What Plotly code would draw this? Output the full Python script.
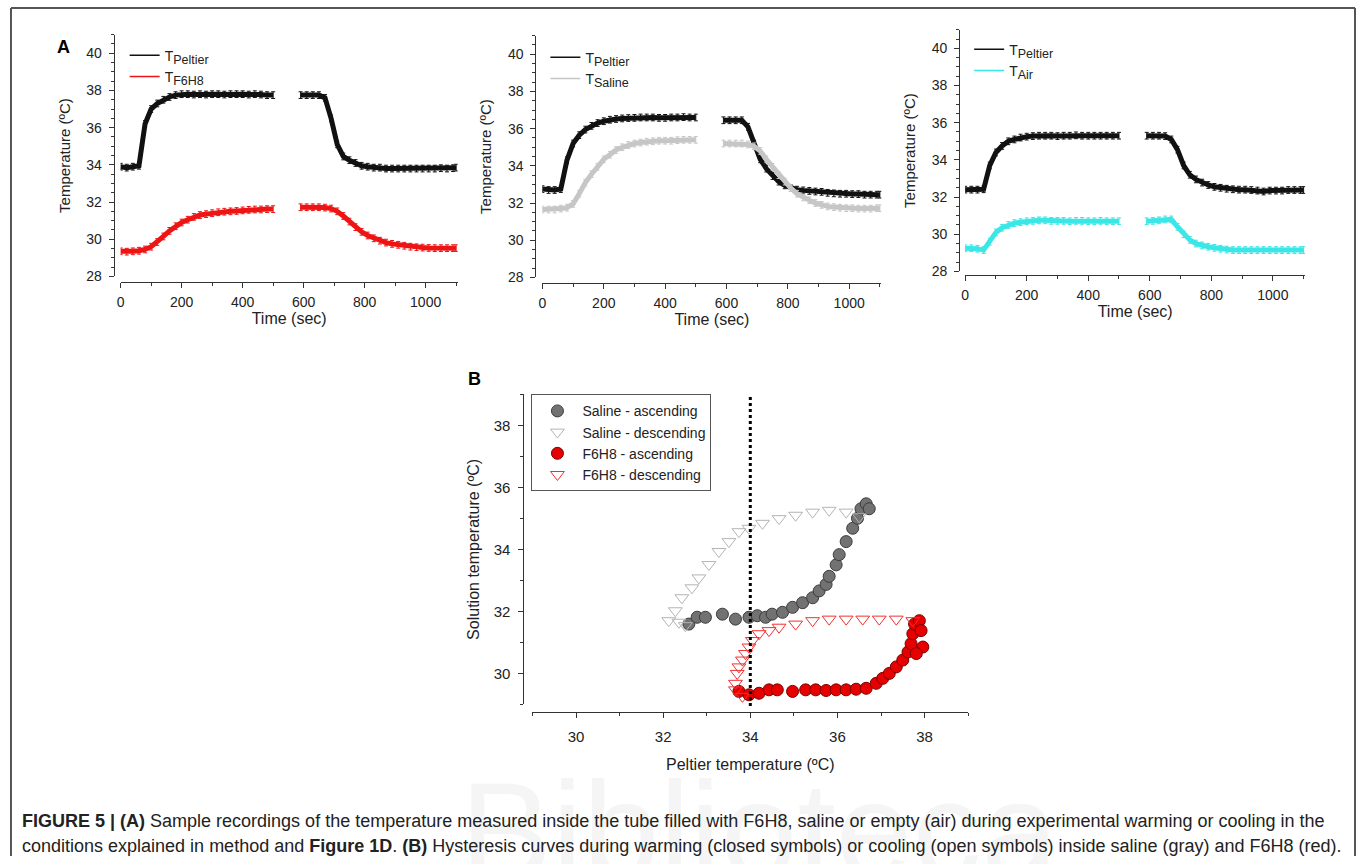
import plotly.graph_objects as go

# ---------------- DATA ----------------
TIME_WARM = [0, 20, 40, 60, 80, 100, 120, 140, 160, 180, 200, 220, 240, 260, 280,
             300, 320, 340, 360, 380, 400, 420, 440, 460, 480, 500]
TIME_COOL = [590, 610, 630, 650, 670, 690, 710, 730, 750, 770, 790, 810, 830, 850,
             870, 890, 910, 930, 950, 970, 990, 1010, 1030, 1050, 1070, 1090, 1100]

# Panel A (left): Peltier vs F6H8
PELTIER_F6H8_WARM = [33.9, 33.85, 33.9, 33.95, 36.2, 37.0, 37.3, 37.5, 37.65, 37.75, 37.8, 37.8, 37.78,
                     37.8, 37.78, 37.8, 37.8, 37.78, 37.8, 37.8, 37.8, 37.78, 37.8, 37.78, 37.75, 37.75]
PELTIER_F6H8_COOL = [37.75, 37.75, 37.75, 37.75, 37.6, 36.5, 35.1, 34.45, 34.25, 34.1, 33.95, 33.9, 33.85,
                     33.85, 33.8, 33.8, 33.8, 33.8, 33.8, 33.8, 33.8, 33.8, 33.8, 33.82, 33.8, 33.82, 33.85]
F6H8_WARM = [29.35, 29.33, 29.35, 29.38, 29.45, 29.6, 29.85, 30.15, 30.45, 30.7, 30.9, 31.05, 31.2,
             31.3, 31.35, 31.4, 31.45, 31.48, 31.5, 31.52, 31.55, 31.58, 31.6, 31.6, 31.62, 31.62]
F6H8_COOL = [31.72, 31.72, 31.72, 31.72, 31.7, 31.65, 31.5, 31.25, 30.95, 30.65, 30.4, 30.2, 30.05,
             29.92, 29.82, 29.75, 29.7, 29.65, 29.6, 29.57, 29.55, 29.53, 29.52, 29.52, 29.52, 29.52, 29.52]

# Panel A (middle): Peltier vs Saline
PELTIER_SAL_WARM = [32.75, 32.7, 32.7, 32.75, 34.3, 35.2, 35.65, 35.95, 36.15, 36.3, 36.4, 36.48, 36.52,
                    36.55, 36.57, 36.58, 36.6, 36.6, 36.6, 36.58, 36.58, 36.6, 36.6, 36.62, 36.6, 36.6]
PELTIER_SAL_COOL = [36.45, 36.45, 36.45, 36.45, 36.1, 35.2, 34.35, 33.85, 33.45, 33.15, 32.95, 32.8, 32.72,
                    32.68, 32.65, 32.62, 32.6, 32.55, 32.52, 32.5, 32.5, 32.48, 32.48, 32.45, 32.45, 32.45, 32.45]
SALINE_WARM = [31.65, 31.65, 31.65, 31.7, 31.75, 31.95, 32.5, 33.1, 33.55, 33.95, 34.35, 34.6, 34.85,
               35.0, 35.12, 35.2, 35.25, 35.3, 35.32, 35.35, 35.35, 35.35, 35.38, 35.4, 35.4, 35.4]
SALINE_COOL = [35.2, 35.2, 35.2, 35.2, 35.15, 35.05, 34.8, 34.35, 33.95, 33.5, 33.15, 32.8, 32.5,
               32.3, 32.15, 32.0, 31.9, 31.82, 31.78, 31.75, 31.72, 31.72, 31.7, 31.7, 31.7, 31.72, 31.72]

# Panel A (right): Peltier vs Air
PELTIER_AIR_WARM = [32.4, 32.4, 32.4, 32.42, 33.7, 34.4, 34.75, 35.0, 35.1, 35.2, 35.25, 35.28, 35.3,
                    35.3, 35.3, 35.28, 35.3, 35.3, 35.32, 35.3, 35.3, 35.3, 35.3, 35.3, 35.3, 35.3]
PELTIER_AIR_COOL = [35.3, 35.3, 35.3, 35.28, 35.1, 34.55, 33.7, 33.2, 32.95, 32.78, 32.65, 32.55, 32.5,
                    32.45, 32.42, 32.4, 32.4, 32.38, 32.35, 32.3, 32.35, 32.35, 32.35, 32.38, 32.38, 32.38, 32.38]
AIR_WARM = [29.25, 29.25, 29.22, 29.15, 29.6, 30.1, 30.35, 30.5, 30.6, 30.65, 30.7, 30.72, 30.75,
            30.75, 30.72, 30.72, 30.72, 30.7, 30.72, 30.72, 30.7, 30.7, 30.72, 30.7, 30.7, 30.7]
AIR_COOL = [30.7, 30.72, 30.75, 30.8, 30.8, 30.4, 30.0, 29.7, 29.5, 29.4, 29.33, 29.27, 29.22,
            29.18, 29.15, 29.15, 29.15, 29.15, 29.15, 29.15, 29.15, 29.15, 29.15, 29.15, 29.15, 29.15, 29.15]

# Panel B: hysteresis (Peltier temperature vs solution temperature)
SAL_ASC_X = [32.59, 32.78, 32.97, 33.36, 33.66, 33.97, 34.16, 34.35, 34.5, 34.74, 34.97, 35.2, 35.43,
             35.58, 35.74, 35.81, 35.97, 36.04, 36.2, 36.35, 36.46, 36.54, 36.66, 36.73]
SAL_ASC_Y = [31.59, 31.81, 31.81, 31.91, 31.75, 31.81, 31.86, 31.81, 31.91, 31.97, 32.13, 32.28, 32.44,
             32.66, 32.87, 33.13, 33.5, 33.83, 34.25, 34.68, 35.0, 35.31, 35.47, 35.31]
SAL_DESC_X = [36.5, 36.2, 35.81, 35.43, 35.04, 34.66, 34.28, 33.97, 33.74, 33.51, 33.28, 33.05, 32.82,
              32.66, 32.43, 32.28, 32.13, 32.36, 32.51]
SAL_DESC_Y = [35.05, 35.2, 35.26, 35.2, 35.1, 34.99, 34.84, 34.68, 34.57, 34.25, 33.93, 33.51, 33.08,
              32.76, 32.44, 32.02, 31.7, 31.65, 31.54]
F6H8_ASC_X = [33.74, 33.97, 34.2, 34.43, 34.62, 34.97, 35.27, 35.5, 35.74, 35.97, 36.2, 36.43, 36.66,
              36.89, 37.04, 37.19, 37.35, 37.5, 37.62, 37.69, 37.73, 37.77, 37.88, 37.92, 37.96, 37.81]
F6H8_ASC_Y = [29.42, 29.31, 29.36, 29.47, 29.47, 29.42, 29.47, 29.47, 29.45, 29.47, 29.47, 29.49, 29.52,
              29.68, 29.84, 30.0, 30.21, 30.43, 30.69, 30.96, 31.28, 31.59, 31.7, 31.38, 30.85, 30.64]
F6H8_DESC_X = [37.73, 37.35, 36.96, 36.58, 36.2, 35.81, 35.43, 35.04, 34.66, 34.43, 34.2, 34.05, 33.97,
               33.89, 33.82, 33.74, 33.7, 33.66, 33.66, 33.82]
F6H8_DESC_Y = [31.7, 31.75, 31.75, 31.75, 31.75, 31.75, 31.7, 31.59, 31.49, 31.38, 31.28, 31.06, 30.85,
               30.64, 30.43, 30.21, 30.0, 29.68, 29.47, 29.26]
PELTIER_REF = 34

CAPTION_LINE1 = ("<b>FIGURE 5 | (A)</b> Sample recordings of the temperature measured inside the tube filled with "
                 "F6H8, saline or empty (air) during experimental warming or cooling in the")
CAPTION_LINE2 = ("conditions explained in method and <b>Figure 1D</b>. <b>(B)</b> Hysteresis curves during warming "
                 "(closed symbols) or cooling (open symbols) inside saline (gray) and F6H8 (red).")

# ---------------- STYLE / LAYOUT ----------------
W, H = 1357, 864
FONT = "Liberation Sans, Arial, sans-serif"
AX = "#333333"
BLACK = "#111111"
RED = "#ee1414"
GRAY = "#c6c6c6"
CYAN = "#3ae6e6"


def px(p):
    return p / W


def py(p):
    return 1 - p / H


def sub_name(base, subtext):
    return f"{base}<sub><span style='font-size:12.5px'>{subtext}</span></sub>"


fig = go.Figure()


def add_series(warm, cool, name, color, xa, ya, legend):
    x = TIME_WARM + [None] + TIME_COOL
    y = warm + [None] + cool
    fig.add_trace(go.Scatter(
        x=x, y=y, mode="lines", xaxis=xa, yaxis=ya, showlegend=False,
        line=dict(color=color, width=5),
        error_y=dict(type="constant", value=0.18, color=color, thickness=1, width=2),
        connectgaps=False, hoverinfo="skip",
    ))
    # legend entry with thin line sample
    fig.add_trace(go.Scatter(
        x=[None], y=[None], mode="lines", name=name, xaxis=xa, yaxis=ya, legend=legend,
        line=dict(color=color, width=1.5), hoverinfo="skip",
    ))


add_series(PELTIER_F6H8_WARM, PELTIER_F6H8_COOL, sub_name("T", "Peltier"), BLACK, "x", "y", "legend")
add_series(F6H8_WARM, F6H8_COOL, sub_name("T", "F6H8"), RED, "x", "y", "legend")
add_series(PELTIER_SAL_WARM, PELTIER_SAL_COOL, sub_name("T", "Peltier"), BLACK, "x2", "y2", "legend2")
add_series(SALINE_WARM, SALINE_COOL, sub_name("T", "Saline"), GRAY, "x2", "y2", "legend2")
add_series(PELTIER_AIR_WARM, PELTIER_AIR_COOL, sub_name("T", "Peltier"), BLACK, "x3", "y3", "legend3")
add_series(AIR_WARM, AIR_COOL, sub_name("T", "Air"), CYAN, "x3", "y3", "legend3")

fig.add_trace(go.Scatter(x=SAL_ASC_X, y=SAL_ASC_Y, mode="markers", name="Saline - ascending",
                         xaxis="x4", yaxis="y4", legend="legend4",
                         marker=dict(symbol="circle", size=12, color="#727272",
                                     line=dict(color="#3c3c3c", width=1))))
fig.add_trace(go.Scatter(x=SAL_DESC_X, y=SAL_DESC_Y, mode="markers", name="Saline - descending",
                         xaxis="x4", yaxis="y4", legend="legend4",
                         marker=dict(symbol="triangle-down-open", size=12, color="#b4b4b4",
                                     line=dict(width=1))))
fig.add_trace(go.Scatter(x=F6H8_ASC_X, y=F6H8_ASC_Y, mode="markers", name="F6H8 - ascending",
                         xaxis="x4", yaxis="y4", legend="legend4",
                         marker=dict(symbol="circle", size=12, color="#e60000",
                                     line=dict(color="#7a0000", width=1))))
fig.add_trace(go.Scatter(x=F6H8_DESC_X, y=F6H8_DESC_Y, mode="markers", name="F6H8 - descending",
                         xaxis="x4", yaxis="y4", legend="legend4",
                         marker=dict(symbol="triangle-down-open", size=12, color="#f03030",
                                     line=dict(width=1))))

fig.add_shape(type="line", xref="x4", yref="y4 domain", x0=PELTIER_REF, x1=PELTIER_REF, y0=-0.005, y1=1.0,
              line=dict(color="black", width=3, dash="dot"))


def time_axes(xd, yd, ypos_px, xpos_px):
    xa = dict(domain=[px(xd[0]), px(xd[1])], range=[0, 1105], anchor="free", position=py(ypos_px),
              showline=True, linecolor=AX, linewidth=1, ticks="outside", ticklen=5, tickcolor=AX,
              tick0=0, dtick=200, showgrid=False, zeroline=False, ticklabelstandoff=2,
              minor=dict(dtick=100, ticks="outside", ticklen=3, tickcolor=AX),
              tickfont=dict(size=14, color="#222", family=FONT),
              title=dict(text="Time (sec)", font=dict(size=16, color="#222", family=FONT), standoff=0))
    ya = dict(domain=[py(yd[1]), py(yd[0])], range=[28, 41], anchor="free", position=px(xpos_px),
              showline=True, linecolor=AX, linewidth=1, ticks="outside", ticklen=5, tickcolor=AX,
              tick0=28, dtick=2, showgrid=False, zeroline=False, ticklabelstandoff=4,
              minor=dict(dtick=0.5, ticks="outside", ticklen=3, tickcolor=AX),
              tickfont=dict(size=14, color="#222", family=FONT),
              title=dict(text="Temperature (ºC)", font=dict(size=15, color="#222", family=FONT), standoff=11))
    return xa, ya


x1, y1 = time_axes((117, 455), (35, 279), 285, 110)
x2, y2 = time_axes((540, 880), (36, 280), 286, 533)
x3, y3 = time_axes((964, 1305), (30, 274), 278, 958)

x4 = dict(domain=[px(530), px(967)], range=[29, 39], anchor="free", position=py(719),
          showline=True, linecolor=AX, linewidth=1, ticks="outside", ticklen=5, tickcolor=AX,
          tick0=30, dtick=2, showgrid=False, zeroline=False, ticklabelstandoff=6,
          minor=dict(dtick=1, ticks="outside", ticklen=3, tickcolor=AX),
          tickfont=dict(size=15, color="#222", family=FONT),
          title=dict(text="Peltier temperature (ºC)", font=dict(size=16, color="#222", family=FONT), standoff=14))
y4 = dict(domain=[py(711), py(398)], range=[29, 39], anchor="free", position=px(521),
          showline=True, linecolor=AX, linewidth=1, ticks="outside", ticklen=5, tickcolor=AX,
          tick0=30, dtick=2, showgrid=False, zeroline=False, ticklabelstandoff=5,
          minor=dict(dtick=1, ticks="outside", ticklen=3, tickcolor=AX),
          tickfont=dict(size=15, color="#222", family=FONT),
          title=dict(text="Solution temperature (ºC)", font=dict(size=16, color="#222", family=FONT), standoff=9))

leg_common = dict(xanchor="left", yanchor="top", bgcolor="rgba(0,0,0,0)", itemwidth=30,
                  font=dict(size=14, color="#222", family=FONT), tracegroupgap=0)

fig.update_layout(
    width=W, height=H, margin=dict(l=0, r=0, t=0, b=0),
    paper_bgcolor="white", plot_bgcolor="white",
    font=dict(family=FONT, color="#222"),
    xaxis=x1, yaxis=y1, xaxis2=x2, yaxis2=y2, xaxis3=x3, yaxis3=y3, xaxis4=x4, yaxis4=y4,
    legend=dict(x=px(121), y=py(40), **leg_common),
    legend2=dict(x=px(543), y=py(42), **leg_common),
    legend3=dict(x=px(968), y=py(34), **leg_common),
    legend4=dict(x=px(529), y=py(398), xanchor="left", yanchor="top", bgcolor="white",
                 bordercolor="#555", borderwidth=1, itemwidth=40, tracegroupgap=0,
                 font=dict(size=14, color="#222", family=FONT)),
    showlegend=True,
)

annotations = [
    dict(text="Biblioteca", x=px(455), y=py(758), xref="paper", yref="paper", xanchor="left",
         yanchor="top", showarrow=False, font=dict(size=138, color="#f5f5f5", family=FONT)),
    dict(text="<b>A</b>", x=px(51), y=py(35), xref="paper", yref="paper", showarrow=False,
         font=dict(size=18, color="black", family=FONT)),
    dict(text="<b>B</b>", x=px(472), y=py(383), xref="paper", yref="paper", showarrow=False,
         font=dict(size=18, color="black", family=FONT)),
    dict(text=CAPTION_LINE1, x=px(16), y=py(829), xref="paper", yref="paper", xanchor="left",
         yanchor="middle", align="left", showarrow=False,
         font=dict(size=18, color="#222", family=FONT)),
    dict(text=CAPTION_LINE2, x=px(16), y=py(854), xref="paper", yref="paper", xanchor="left",
         yanchor="middle", align="left", showarrow=False,
         font=dict(size=18, color="#222", family=FONT)),
]
fig.update_layout(annotations=annotations)

# outer frame
for s in [dict(x0=px(7), x1=px(7), y0=0, y1=py(8)),
          dict(x0=px(7), x1=px(1355), y0=py(8), y1=py(8)),
          dict(x0=px(1355), x1=px(1355), y0=0, y1=py(8))]:
    fig.add_shape(type="line", xref="paper", yref="paper", line=dict(color="#555", width=2), **s)

fig.write_html("out.html", config={"displayModeBar": False},
               post_script="document.body.style.margin='0';document.body.style.overflow='hidden';")
